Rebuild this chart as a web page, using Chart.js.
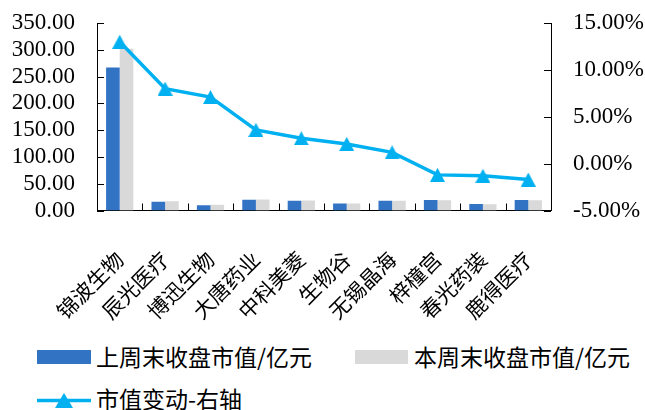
<!DOCTYPE html>
<html>
<head>
<meta charset="utf-8">
<script src="https://cdn.jsdelivr.net/npm/chart.js@4.4.0/dist/chart.umd.min.js"></script>
<style>
body { margin: 0; background: #fff; }
#wrap { position: relative; width: 645px; height: 410px; }
#chart { position: absolute; left: 0; top: 0; }
.sw { position: absolute; }
.lg { position: absolute; font-family: "Noto Sans CJK SC"; font-size: 23px; line-height: 24px; color: #000; white-space: nowrap; }
</style>
</head>
<body>
<div id="wrap">
  <canvas id="chart" width="645" height="330"></canvas>
  <div class="sw" style="left:37px;top:350px;width:54px;height:14px;background:#3373C4"></div>
  <div class="lg" id="lg0" style="left:96px;top:344px"></div>
  <div class="sw" style="left:355px;top:350px;width:53px;height:14px;background:#D9D9D9"></div>
  <div class="lg" id="lg1" style="left:414px;top:344px"></div>
  <svg class="sw" style="left:37px;top:392px" width="55" height="17">
    <line x1="0" y1="8.5" x2="54" y2="8.5" stroke="#00B0F0" stroke-width="3.5"/>
    <polygon points="27,1 36,16 18,16" fill="#00B0F0"/>
  </svg>
  <div class="lg" id="lg2" style="left:96px;top:386px"></div>
</div>
<script>
// 公司 & 市值 (亿元), 市值变动 (%)
const companies = ["锦波生物", "辰光医疗", "博迅生物", "大唐药业", "中科美菱", "生物谷", "无锡晶海", "梓橦宫", "春光药装", "鹿得医疗"];
const prevCap = [267, 16.2, 10, 20, 18, 13, 18, 19.4, 12, 19.4];
const currCap = [302, 17.5, 10.7, 20.7, 18.5, 13.3, 18.2, 19.2, 11.8, 19.1];
const change = [13.0, 8.0, 7.1, 3.6, 2.7, 2.1, 1.2, -1.2, -1.3, -1.7];
const seriesNames = ["上周末收盘市值/亿元", "本周末收盘市值/亿元", "市值变动-右轴"];

seriesNames.forEach((n, i) => { document.getElementById("lg" + i).textContent = n; });

// triangle marker, centred in its box like the original
function triangle(w, h, color) {
    const c = document.createElement("canvas");
    c.width = w; c.height = h;
    const g = c.getContext("2d");
    g.fillStyle = color;
    g.beginPath();
    g.moveTo(w / 2, 0);
    g.lineTo(w, h);
    g.lineTo(0, h);
    g.closePath();
    g.fill();
    return c;
}

// short tick marks pointing into the plot
const innerTicks = {
    id: "innerTicks",
    afterDraw(chart) {
        const { ctx, chartArea: a, scales: { x, y, y1 } } = chart;
        ctx.save();
        ctx.strokeStyle = "#000";
        ctx.lineWidth = 1;
        ctx.beginPath();
        y.ticks.forEach(t => {
            const p = Math.round(y.getPixelForValue(t.value)) + 0.5;
            ctx.moveTo(a.left, p); ctx.lineTo(a.left + 7, p);
        });
        y1.ticks.forEach(t => {
            const p = Math.round(y1.getPixelForValue(t.value)) + 0.5;
            ctx.moveTo(a.right - 7, p); ctx.lineTo(a.right, p);
        });
        for (let i = 1; i < companies.length; i++) {
            const p = Math.round((x.getPixelForValue(i - 1) + x.getPixelForValue(i)) / 2) + 0.5;
            ctx.moveTo(p, a.bottom); ctx.lineTo(p, a.bottom - 7);
        }
        ctx.stroke();
        ctx.restore();
    }
};

const numFont = { family: "Liberation Serif", size: 23 };
const axisBorder = { display: true, color: "#000", width: 1 };
// fixed axis widths; drop the extra label padding Chart.js reserves above/below
const fixWidth = w => s => { s.width = w; s.paddingTop = 0; s.paddingBottom = 0; };

new Chart(document.getElementById("chart"), {
    data: {
        labels: companies,
        datasets: [
            {
                type: "line",
                label: seriesNames[2],
                data: change,
                yAxisID: "y1",
                borderColor: "#00B0F0",
                backgroundColor: "#00B0F0",
                borderWidth: 3.5,
                pointStyle: triangle(15, 14, "#00B0F0"),
                pointRadius: 7,
                order: 0
            },
            {
                type: "bar",
                label: seriesNames[0],
                data: prevCap,
                yAxisID: "y",
                backgroundColor: "#3373C4",
                categoryPercentage: 0.6,
                barPercentage: 1,
                order: 1
            },
            {
                type: "bar",
                label: seriesNames[1],
                data: currCap,
                yAxisID: "y",
                backgroundColor: "#D9D9D9",
                categoryPercentage: 0.6,
                barPercentage: 1,
                order: 2
            }
        ]
    },
    options: {
        responsive: false,
        animation: false,
        layout: { padding: { top: 23, left: 0, right: 0, bottom: 0 } },
        plugins: { legend: { display: false }, tooltip: { enabled: true } },
        scales: {
            x: {
                offset: true,
                grid: { display: false, drawTicks: false },
                border: axisBorder,
                ticks: {
                    minRotation: 45, maxRotation: 45, padding: 36,
                    color: "#000",
                    font: { family: "Noto Sans CJK SC", size: 21 }
                },
                afterFit: s => { s.height = 119.5; }
            },
            y: {
                position: "left",
                min: 0, max: 350,
                grid: { display: false, drawTicks: false },
                border: axisBorder,
                ticks: { stepSize: 50, autoSkip: false, padding: 22, color: "#000", font: numFont, callback: v => v.toFixed(2) },
                afterFit: fixWidth(97)
            },
            y1: {
                position: "right",
                min: -5, max: 15,
                grid: { display: false, drawTicks: false },
                border: axisBorder,
                ticks: { stepSize: 5, autoSkip: false, padding: 22, color: "#000", font: numFont, callback: v => v.toFixed(2) + "%" },
                afterFit: fixWidth(94)
            }
        }
    },
    plugins: [innerTicks]
});
</script>
</body>
</html>
